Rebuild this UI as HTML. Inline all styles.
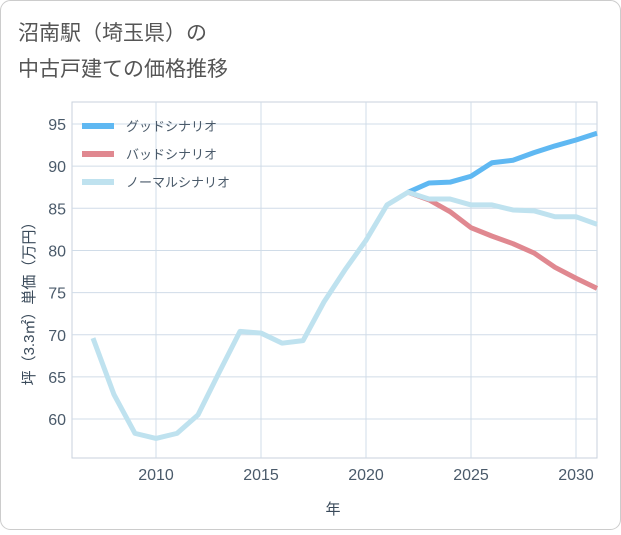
<!DOCTYPE html>
<html><head><meta charset="utf-8"><style>
body{margin:0;background:#fff;}
svg text{font-family:"Liberation Sans","Noto Sans CJK JP",sans-serif;}
</style></head><body>
<svg width="621" height="530">
<rect x="0.5" y="0.5" width="620" height="529" rx="10" fill="#fff" stroke="#ccc"/>
<text x="18" y="40" font-size="21" fill="#555">沼南駅（埼玉県）の</text>
<text x="18" y="76" font-size="21" fill="#555">中古戸建ての価格推移</text>
<g id="grid"></g>
<g id="lines"></g>
<g id="legend"></g>
<text x="333" y="514" font-size="15" fill="#3a4a5a" text-anchor="middle">年</text>
<text transform="translate(34,300) rotate(-90)" font-size="15" fill="#3a4a5a" text-anchor="middle">坪（3.3㎡）単価（万円）</text>
</svg>
<script>
const years=[2007,2008,2009,2010,2011,2012,2013,2014,2015,2016,2017,2018,2019,2020,2021,2022,2023,2024,2025,2026,2027,2028,2029,2030,2031];
const normal=[69.6,62.9,58.3,57.7,58.3,60.5,65.5,70.4,70.2,69.0,69.3,73.9,77.7,81.2,85.4,86.9,86.1,86.1,85.4,85.4,84.8,84.7,84.0,84.0,83.1];
const futYears=[2022,2023,2024,2025,2026,2027,2028,2029,2030,2031];
const good=[86.9,88.0,88.1,88.8,90.4,90.7,91.6,92.4,93.1,93.9];
const bad=[86.9,86.0,84.6,82.7,81.7,80.8,79.7,78.0,76.7,75.5];
const xTicks=[2010,2015,2020,2025,2030];
const yTicks=[60,65,70,75,80,85,90,95];
const L=72,R=597,T=102,B=458;
const xs=y=>156+(y-2010)*21;
const ys=v=>124+(95-v)*8.43;
const NS="http://www.w3.org/2000/svg";
function mk(t,a,p){const e=document.createElementNS(NS,t);for(const k in a)e.setAttribute(k,a[k]);p.appendChild(e);return e;}
const g=document.getElementById('grid');
const bg=mk('rect',{x:L,y:T,width:R-L,height:B-T,fill:'none',stroke:'#c8d2dc'},g);


yTicks.forEach(v=>{
 const l=mk('line',{x1:L,x2:R,y1:ys(v),y2:ys(v),stroke:'#d0dce8'},g);
 
 
 const t=mk('text',{x:L-6,y:ys(v)+6,'font-size':16,fill:'#4a5a6a','text-anchor':'end'},g);t.textContent=v;
 
 
});
xTicks.forEach(v=>{
 const l=mk('line',{x1:xs(v),x2:xs(v),y1:T,y2:B,stroke:'#d0dce8'},g);
 
 
 const t=mk('text',{x:xs(v),y:B+22,'font-size':16,fill:'#4a5a6a','text-anchor':'middle'},g);t.textContent=v;
 
 
});
const lg=document.getElementById('lines');
function line(xv,yv,c,n){
 const p=mk('polyline',{points:xv.map((x,i)=>xs(x)+','+ys(yv[i])).join(' '),fill:'none',stroke:c,'stroke-width':5,'stroke-linejoin':'round'},lg);
 
 
}
line(futYears,good,'#5fb8f2','good-scenario-line');
line(futYears,bad,'#e08890','bad-scenario-line');
line(years,normal,'#bfe2ef','normal-scenario-line');
const le=document.getElementById('legend');
[['グッドシナリオ','#5fb8f2'],['バッドシナリオ','#e08890'],['ノーマルシナリオ','#bfe2ef']].forEach((d,i)=>{
 const y=126+i*28;
 const r=mk('rect',{x:82,y:y-3,width:32,height:6,fill:d[1]},le);
 
 
 const t=mk('text',{x:126,y:y+5,'font-size':13,fill:'#4a5a6a'},le);t.textContent=d[0];
 
 
});
</script>
</body></html>
